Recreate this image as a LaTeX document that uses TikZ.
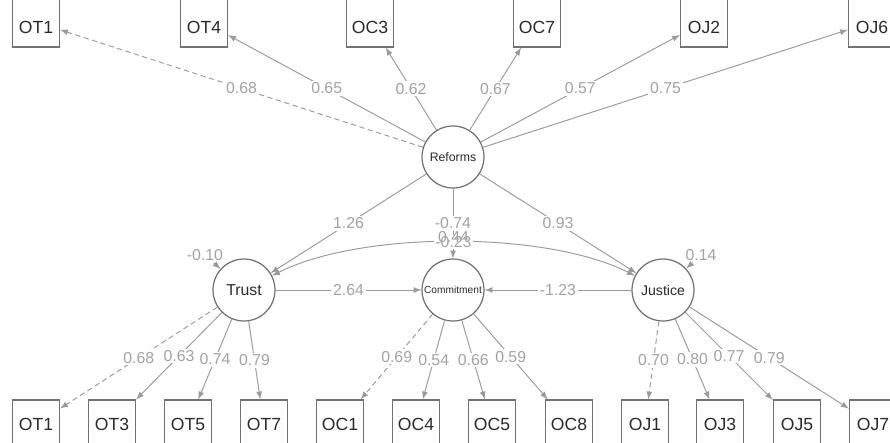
\documentclass[tikz,border=0pt]{standalone}
\usepackage{fontspec}
\setmainfont{Liberation Sans}
\usepackage{xcolor}
\usetikzlibrary{arrows, positioning}

\definecolor{edgegray}{HTML}{9A9A9A}
\definecolor{lblgray}{HTML}{A2A2A2}
\definecolor{boxgray}{HTML}{727272}
\definecolor{txtdark}{HTML}{2A2A2A}

\begin{document}
\begin{tikzpicture}[x=0.02cm, y=-0.02cm, >=latex,
  latent/.style={draw=boxgray, circle, fill=white, minimum size=1.24cm, inner sep=0pt, line width=0.7pt, text=txtdark},
  topitem/.style={draw=boxgray, rectangle, fill=white, minimum width=0.94cm, inner sep=0pt, text height=0.73cm, text depth=0.27cm, line width=0.7pt, text=txtdark, font=\fontsize{10}{12}\selectfont},
  item/.style={draw=boxgray, rectangle, fill=white, minimum width=0.94cm, minimum height=0.96cm, inner sep=0pt, line width=0.7pt, text=txtdark, font=\fontsize{10}{12}\selectfont},
  load/.style={->, draw=edgegray, line width=0.55pt},
  fixed/.style={load, dash pattern=on 3pt off 2pt},
  coef/.style={fill=white, text=lblgray, inner sep=1pt, font=\fontsize{9}{10}\selectfont}]
\useasboundingbox (0,0) rectangle (890,443);
\clip (0,0) rectangle (890,443);

% Latent variables
\node[latent, font=\fontsize{7}{8}\selectfont] (reforms) at (453,157) {Reforms};
\node[latent, font=\fontsize{9}{10}\selectfont] (trust) at (244,290) {Trust};
\node[latent, font=\fontsize{5.8}{7}\selectfont] (commit) at (453,290) {Commitment};
\node[latent, font=\fontsize{8}{9}\selectfont] (justice) at (663,290) {Justice};

% Items of Reforms (top row)
\node[topitem] (tOT1) at (36,22) {OT1};
\node[topitem] (tOT4) at (204,22) {OT4};
\node[topitem] (tOC3) at (370,22) {OC3};
\node[topitem] (tOC7) at (537,22) {OC7};
\node[topitem] (tOJ2) at (704,22) {OJ2};
\node[topitem] (tOJ6) at (872,22) {OJ6};

% Items of Trust, Commitment, Justice (bottom row)
\node[item] (bOT1) at (36,424) {OT1};
\node[item] (bOT3) at (112,424) {OT3};
\node[item] (bOT5) at (188,424) {OT5};
\node[item] (bOT7) at (264,424) {OT7};
\node[item] (bOC1) at (340,424) {OC1};
\node[item] (bOC4) at (416,424) {OC4};
\node[item] (bOC5) at (492,424) {OC5};
\node[item] (bOC8) at (569,424) {OC8};
\node[item] (bOJ1) at (645,424) {OJ1};
\node[item] (bOJ3) at (720,424) {OJ3};
\node[item] (bOJ5) at (797,424) {OJ5};
\node[item] (bOJ7) at (873,424) {OJ7};

% Reforms loadings
\draw[fixed] (reforms) -- (tOT1) node[coef, midway] {0.68};
\draw[load] (reforms) -- (tOT4) node[coef, midway] {0.65};
\draw[load] (reforms) -- (tOC3) node[coef, midway] {0.62};
\draw[load] (reforms) -- (tOC7) node[coef, midway] {0.67};
\draw[load] (reforms) -- (tOJ2) node[coef, midway] {0.57};
\draw[load] (reforms) -- (tOJ6) node[coef, midway] {0.75};

% Trust loadings
\draw[fixed] (trust) -- (bOT1) node[coef, midway] {0.68};
\draw[load] (trust) -- (bOT3) node[coef, midway] {0.63};
\draw[load] (trust) -- (bOT5) node[coef, midway] {0.74};
\draw[load] (trust) -- (bOT7) node[coef, midway] {0.79};

% Commitment loadings
\draw[fixed] (commit) -- (bOC1) node[coef, midway] {0.69};
\draw[load] (commit) -- (bOC4) node[coef, midway] {0.54};
\draw[load] (commit) -- (bOC5) node[coef, midway] {0.66};
\draw[load] (commit) -- (bOC8) node[coef, midway] {0.59};

% Justice loadings
\draw[fixed] (justice) -- (bOJ1) node[coef, midway] {0.70};
\draw[load] (justice) -- (bOJ3) node[coef, midway] {0.80};
\draw[load] (justice) -- (bOJ5) node[coef, midway] {0.77};
\draw[load] (justice) -- (bOJ7) node[coef, midway] {0.79};

% Structural paths
\draw[load] (reforms) -- (trust) node[coef, midway] {1.26};
\draw[load] (reforms) -- (justice) node[coef, midway] {0.93};
\draw[load] (reforms) -- (commit) node[coef, midway] {-0.74};
\draw[load] (trust) -- (commit) node[coef, midway] {2.64};
\draw[load] (justice) -- (commit) node[coef, midway] {-1.23};

% Covariance Trust - Justice
\draw[load, <->] (trust.27) .. controls +(89,-45) and +(-89,-45) .. (justice.153)
  node[coef, midway] {-0.23}
  node[coef, fill=none, midway, yshift=3pt] {0.44};

% Residuals
\node[coef, fill=none] (resT) at (205,255) {-0.10};
\draw[load] (resT) -- (trust);
\node[coef, fill=none] (resJ) at (701,255) {0.14};
\draw[load] (resJ) -- (justice);
\end{tikzpicture}
\end{document}
